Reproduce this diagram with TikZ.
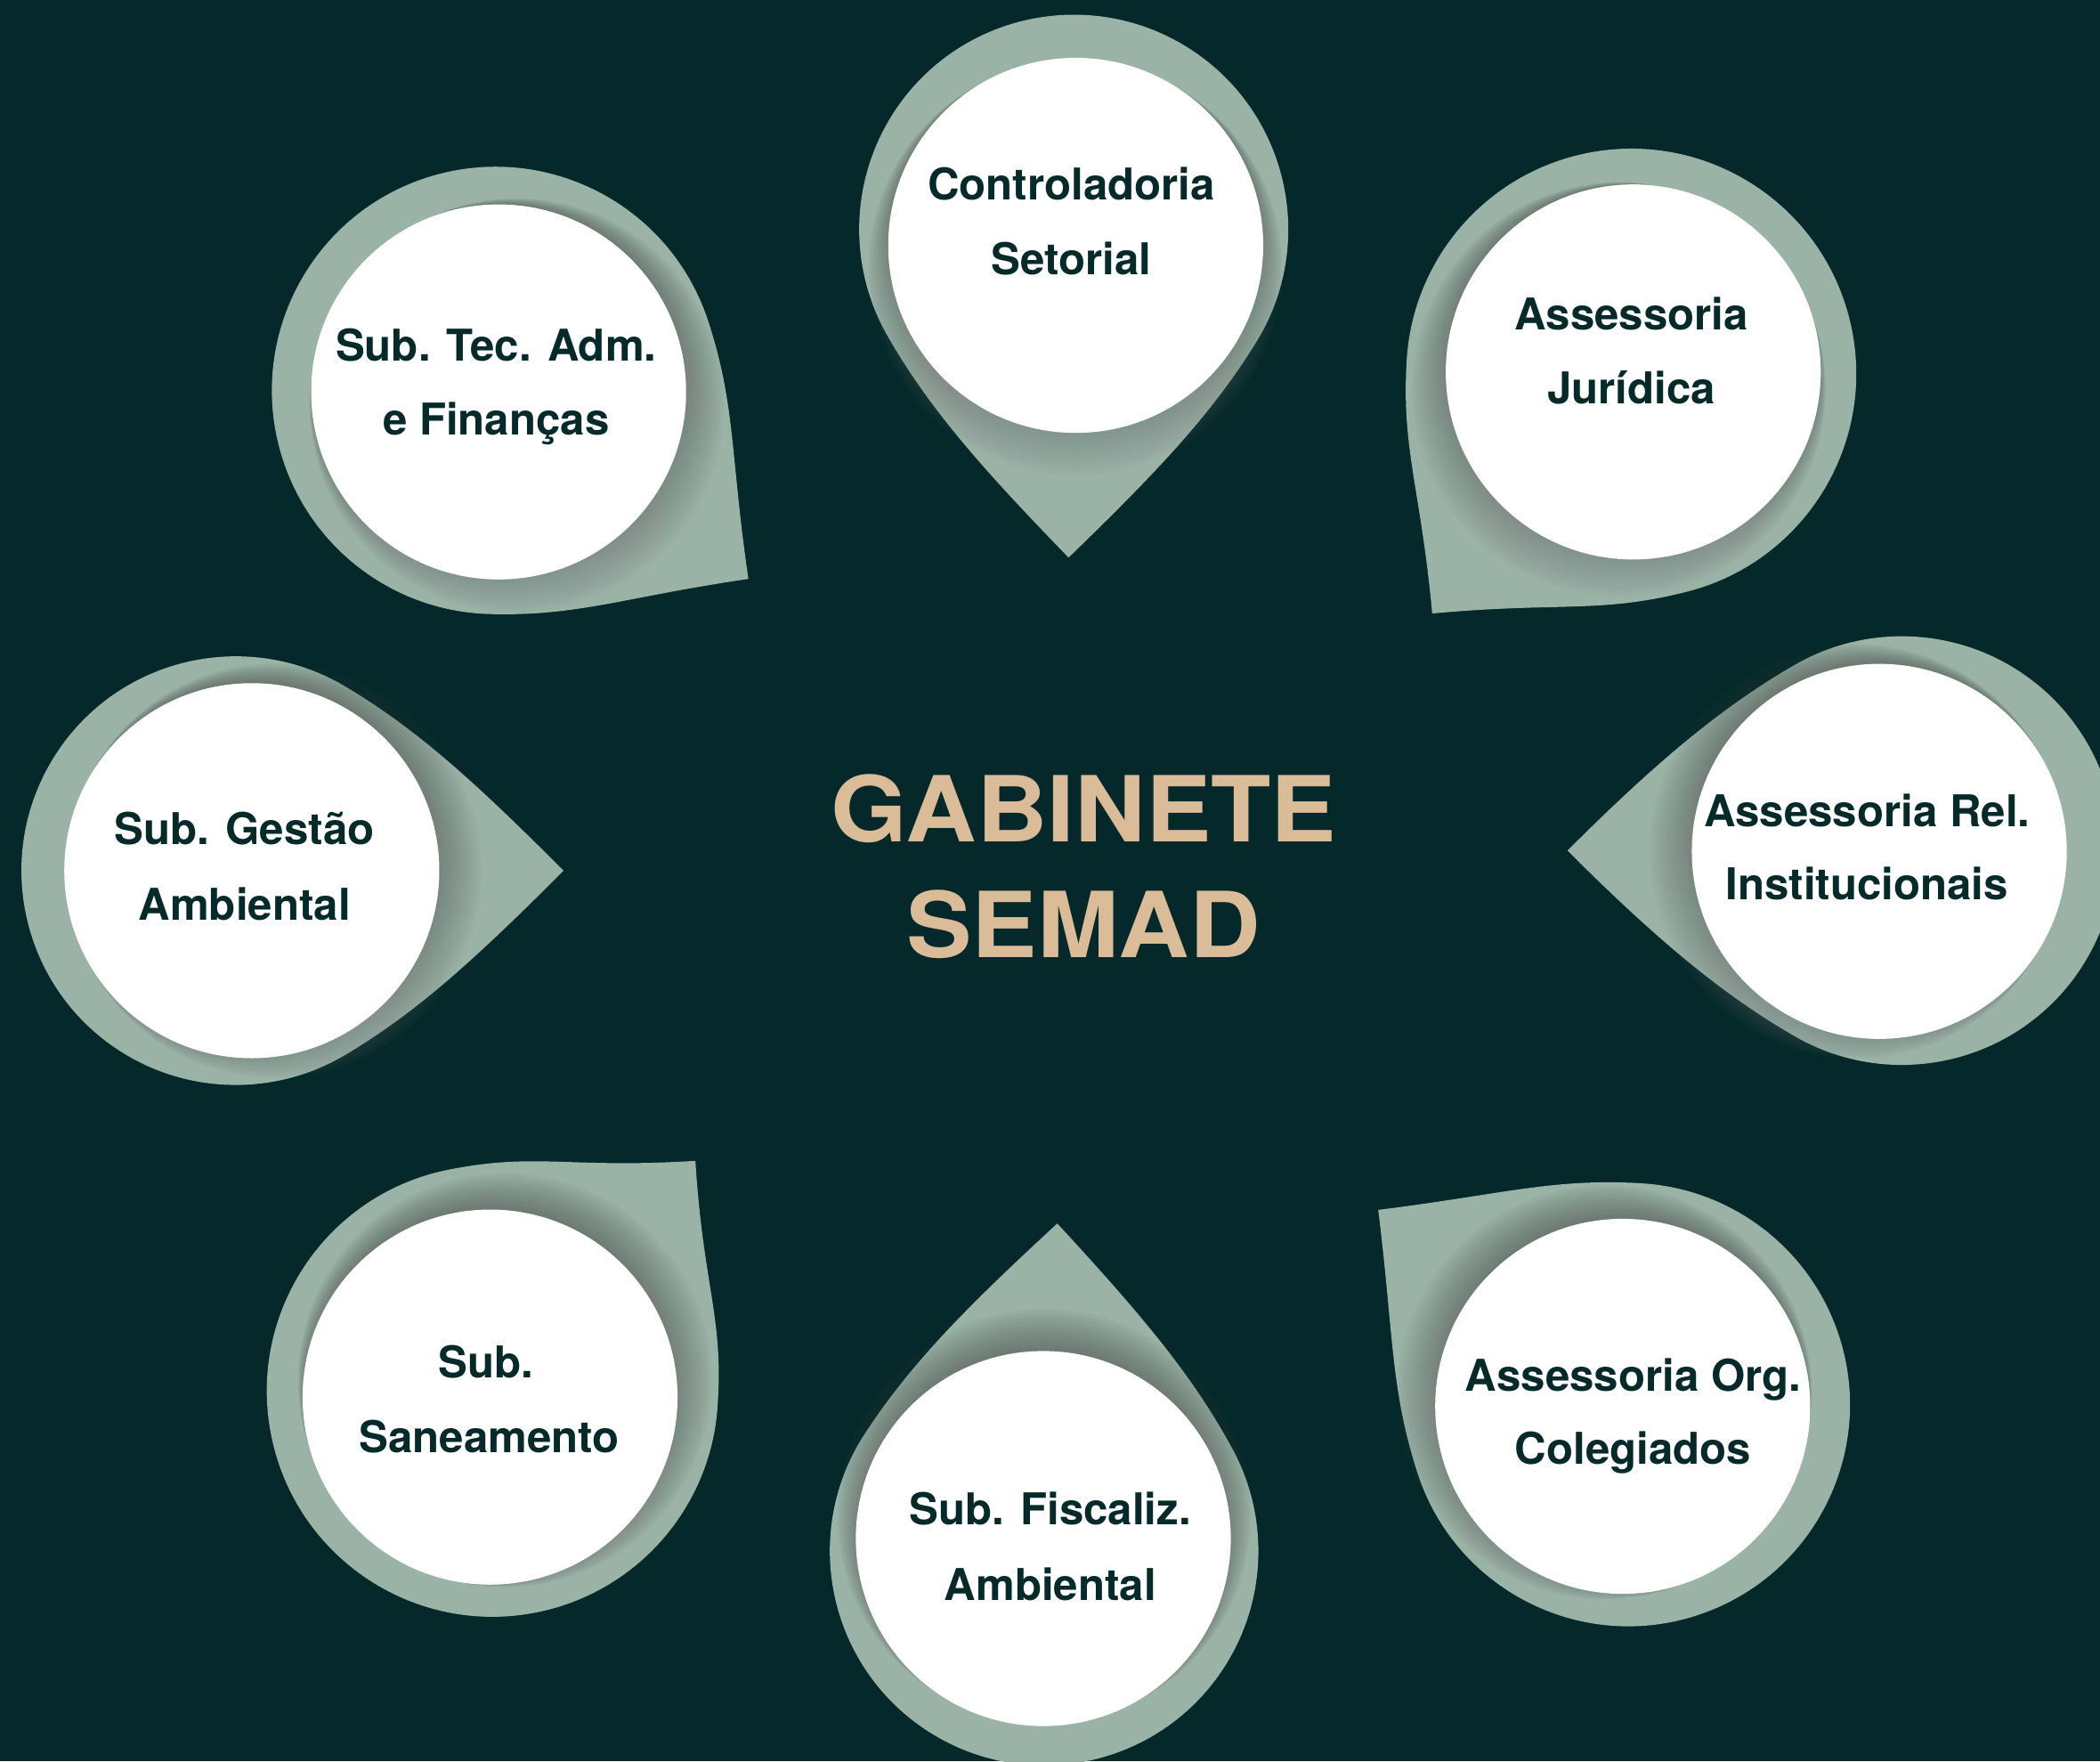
\documentclass[tikz,border=0pt]{standalone}
\usepackage{fontspec}
\setmainfont{TeX Gyre Heros}
\usetikzlibrary{calc}
\definecolor{bg}{HTML}{05292A}
\definecolor{sage}{HTML}{9AB3A6}
\definecolor{shade}{HTML}{3D5A4E}
\definecolor{ink}{HTML}{062A2A}
\definecolor{tan}{HTML}{DBBC99}

% teardrop: centre x, centre y, radius, direction of tip, tip distance / radius
\newcommand\dropshape[5]{%
  \begin{scope}[shift={(#1,#2)},rotate=#4]
    \pgfmathsetmacro\dropbe{acos(1/#5)+10}
    \pgfmathsetmacro\dropen{360-\dropbe}
    \pgfmathsetmacro\droptip{#5*#3}
    \fill[sage] (\droptip,0)
      .. controls ({\droptip-0.4*#3},{0.4*#3}) and ({#3*cos(\dropbe)+0.4*#3*sin(\dropbe)},{#3*sin(\dropbe)-0.4*#3*cos(\dropbe)}) .. ({#3*cos(\dropbe)},{#3*sin(\dropbe)})
      arc[start angle=\dropbe, end angle=\dropen, radius=#3]
      .. controls ({#3*cos(\dropbe)+0.4*#3*sin(\dropbe)},{-#3*sin(\dropbe)+0.4*#3*cos(\dropbe)}) and ({\droptip-0.4*#3},{-0.4*#3}) .. cycle;
  \end{scope}}

% soft shadow of a white disc, pushed toward the tip
\newcommand\ballshadow[3]{%
  \begin{scope}[shift={(#1,#2)},rotate=#3]
    \foreach \k in {1,...,12} {\fill[shade, opacity=0.022] ({1.4*\k},0) circle ({139.5+1.25*\k});}
  \end{scope}}

\tikzset{
  disc/.style={circle, fill=white, minimum size=280pt, inner sep=0pt, outer sep=0pt},
  label/.style={text=ink, font=\fontsize{32.7}{36}\selectfont\bfseries, anchor=base, inner sep=0pt},
  title/.style={text=tan, font=\fontsize{68}{70}\selectfont\bfseries, anchor=base, inner sep=0pt}
}

\begin{document}
\begin{tikzpicture}[x=1pt,y=1pt]
\useasboundingbox (0,0) rectangle (1568,1315);
\fill[bg] (0,0) rectangle (1568,1315);
\clip (0,0) rectangle (1568,1315);

% teardrops
\dropshape{801.7}{1143.8}{160.2}{-90.9}{1.53}
\dropshape{1218}{1036}{168}{230.3}{1.385}
\dropshape{1420}{680}{160}{180}{1.56}
\dropshape{1215.8}{266.4}{165.5}{142.1}{1.43}
\dropshape{779.6}{157}{160}{87.7}{1.53}
\dropshape{367.7}{276.5}{168.5}{48.6}{1.36}
\dropshape{176}{665}{160}{0}{1.53}
\dropshape{370}{1023.5}{167}{-36.7}{1.41}

% shadows
\ballshadow{803.2}{1131.8}{-90.9}
\ballshadow{1219.5}{1037.3}{230.3}
\ballshadow{1403.2}{679.4}{180}
\ballshadow{1211.6}{265.1}{142.1}
\ballshadow{779}{166.4}{87.7}
\ballshadow{365.9}{272}{48.6}
\ballshadow{188}{665}{0}
\ballshadow{372.3}{1022.4}{-36.7}

% white discs
\node[disc] (d1) at (803.2,1131.8) {};
\node[disc] (d2) at (1219.5,1037.3) {};
\node[disc] (d3) at (1403.2,679.4) {};
\node[disc] (d4) at (1211.6,265.1) {};
\node[disc] (d5) at (779,166.4) {};
\node[disc] (d6) at (365.9,272) {};
\node[disc] (d7) at (188,665) {};
\node[disc] (d8) at (372.3,1022.4) {};

% labels
\node[label] (t1a) at (800,1166) {Controladoria};
\node[label] (t1b) at (800,1110) {Setorial};
\node[label] (t2a) at (1218,1069) {Assessoria};
\node[label] (t2b) at (1218,1013.5) {Jurídica};
\node[label] (t3a) at (1394,698) {Assessoria Rel.};
\node[label] (t3b) at (1394,643) {Institucionais};
\node[label] (t4a) at (1219.4,276.4) {Assessoria Org.};
\node[label] (t4b) at (1219.4,221.8) {Colegiados};
\node[label] (t5a) at (784.2,176.4) {Sub. Fiscaliz.};
\node[label] (t5b) at (784.2,120.4) {Ambiental};
\node[label] (t6a) at (363,286.2) {Sub.};
\node[label] (t6b) at (365.3,230.4) {Saneamento};
\node[label] (t7a) at (182.6,684.3) {Sub. Gestão};
\node[label] (t7b) at (182.6,628.1) {Ambiental};
\node[label] (t8a) at (370.4,1045.2) {Sub. Tec. Adm.};
\node[label] (t8b) at (370.4,990.3) {e Finanças};

% title
\node[title] (g1) at (809,686.5) {\scalebox{1.077}[1]{GABINETE}};
\node[title] (g2) at (809,600.4) {\scalebox{1.077}[1]{SEMAD}};
\end{tikzpicture}
\end{document}
